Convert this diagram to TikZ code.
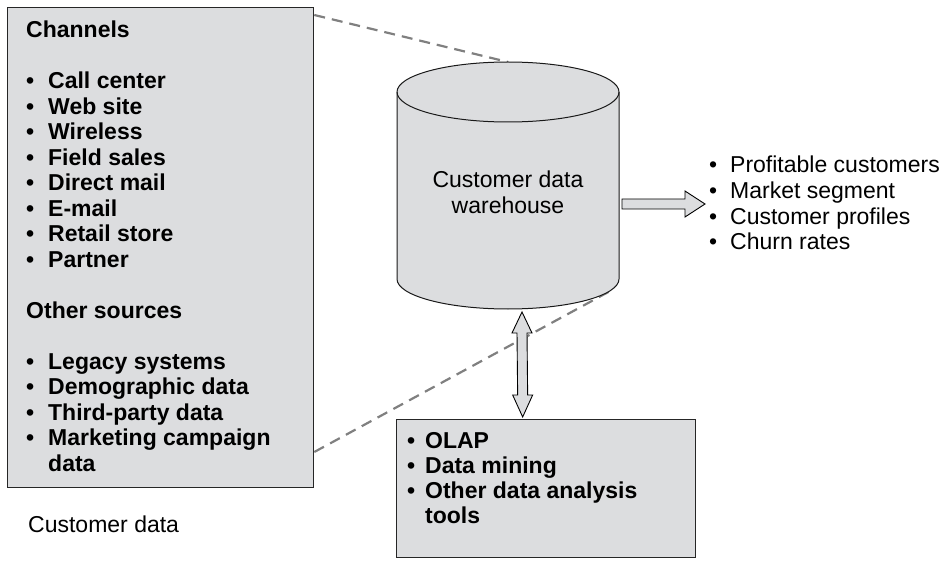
\documentclass[tikz,border=0pt]{standalone}
\usepackage{fontspec}
\setmainfont{Liberation Sans}
\usetikzlibrary{calc}

\definecolor{panel}{RGB}{220,221,223}
\definecolor{guidegray}{RGB}{128,128,128}

% bullet line with a hanging indent
\newcommand\itm[2][22pt]{\makebox[#1][l]{\textbullet}#2\par}
\newcommand\blankline{\mbox{}\par}

\begin{document}
\begin{tikzpicture}[x=1pt,y=-1pt,
  panelbox/.style={draw=black!85, line width=1.3pt, fill=panel, inner sep=0pt},
  guide/.style={draw=guidegray, line width=2.2pt, dash pattern=on 11pt off 7pt},
  fatarrow/.style={draw=black, line width=0.9pt, fill=panel, line join=miter},
  cyl/.style={draw=black!90, line width=1pt, fill=panel},
  listtext/.style={inner sep=0pt, anchor=base west},
]
\useasboundingbox (0,0) rectangle (947,561);

% ---- source panel -------------------------------------------------------
\node[panelbox, anchor=north west, minimum width=306pt, minimum height=480pt]
  (src) at (7,7) {};
\node[listtext] (srclist) at (26,38) {\parbox[t]{285pt}{%
  \fontsize{23}{25.5}\selectfont\bfseries
  Channels\par
  \blankline
  \itm{Call center}
  \itm{Web site}
  \itm{Wireless}
  \itm{Field sales}
  \itm{Direct mail}
  \itm{E-mail}
  \itm{Retail store}
  \itm{Partner}
  \blankline
  Other sources\par
  \blankline
  \itm{Legacy systems}
  \itm{Demographic data}
  \itm{Third-party data}
  \itm{Marketing campaign}
  \hspace*{22pt}data\par}};
\node[listtext, font=\fontsize{23}{25.5}\selectfont] (srccap) at (28,532) {Customer data};

% ---- warehouse cylinder -------------------------------------------------
\coordinate (cylTop) at (508,92);
\coordinate (cylBot) at (508,279);
\coordinate (cylTopEdge) at ($(cylTop)+(0,-30)$);
\coordinate (cylBotEdge) at (612,290);

% dashed guides from the source panel to the warehouse
\draw[guide] ($(src.north east)+(0,8)$) -- (cylTopEdge);
\draw[guide] ($(src.north east)+(0,445)$) -- (cylBotEdge);

\path[cyl] ($(cylTop)+(-111,0)$) -- ($(cylBot)+(-111,0)$)
  arc[start angle=180, end angle=360, x radius=111pt, y radius=30pt]
  -- ($(cylTop)+(111,0)$)
  arc[start angle=0, end angle=180, x radius=111pt, y radius=30pt] -- cycle;
\draw[cyl, fill=none] ($(cylTop)+(-111,0)$)
  arc[start angle=180, end angle=360, x radius=111pt, y radius=30pt];
% the base anchor of a two-line node sits on its last line
\node[align=center, inner sep=0pt, anchor=base,
      font=\fontsize{23}{26}\selectfont] (dw) at (508,214)
  {Customer data\\warehouse};

% ---- outputs ------------------------------------------------------------
\node[listtext] (outlist) at (709,173) {\parbox[t]{240pt}{%
  \fontsize{23}{25.6}\selectfont
  \itm[21pt]{Profitable customers}
  \itm[21pt]{Market segment}
  \itm[21pt]{Customer profiles}
  \itm[21pt]{Churn rates}}};

\coordinate (outTail) at (622,204);
\coordinate (outTip) at (705,204);
\draw[fatarrow] ($(outTail)+(0,-5)$) -- ($(outTip)+(-20,-5)$) -- ($(outTip)+(-20,-13)$)
  -- (outTip) -- ($(outTip)+(-20,13)$) -- ($(outTip)+(-20,5)$)
  -- ($(outTail)+(0,5)$) -- cycle;

% ---- analysis tools -----------------------------------------------------
\node[panelbox, anchor=north west, minimum width=299pt, minimum height=138pt]
  (tools) at (396,419) {};
\node[listtext] (toollist) at (407,448) {\parbox[t]{280pt}{%
  \fontsize{23}{25.3}\selectfont\bfseries
  \itm[18pt]{OLAP}
  \itm[18pt]{Data mining}
  \itm[18pt]{Other data analysis}
  \hspace*{18pt}tools\par}};

\coordinate (linkTop) at (522,312);
\coordinate (linkBot) at ($(tools.north)+(-23.5,-2)$);
\draw[fatarrow] (linkTop) -- ($(linkTop)+(10,21)$) -- ($(linkTop)+(5,21)$)
  -- ($(linkBot)+(5,-22)$) -- ($(linkBot)+(10,-22)$) -- (linkBot)
  -- ($(linkBot)+(-10,-22)$) -- ($(linkBot)+(-5,-22)$)
  -- ($(linkTop)+(-5,21)$) -- ($(linkTop)+(-10,21)$) -- cycle;
\end{tikzpicture}
\end{document}
